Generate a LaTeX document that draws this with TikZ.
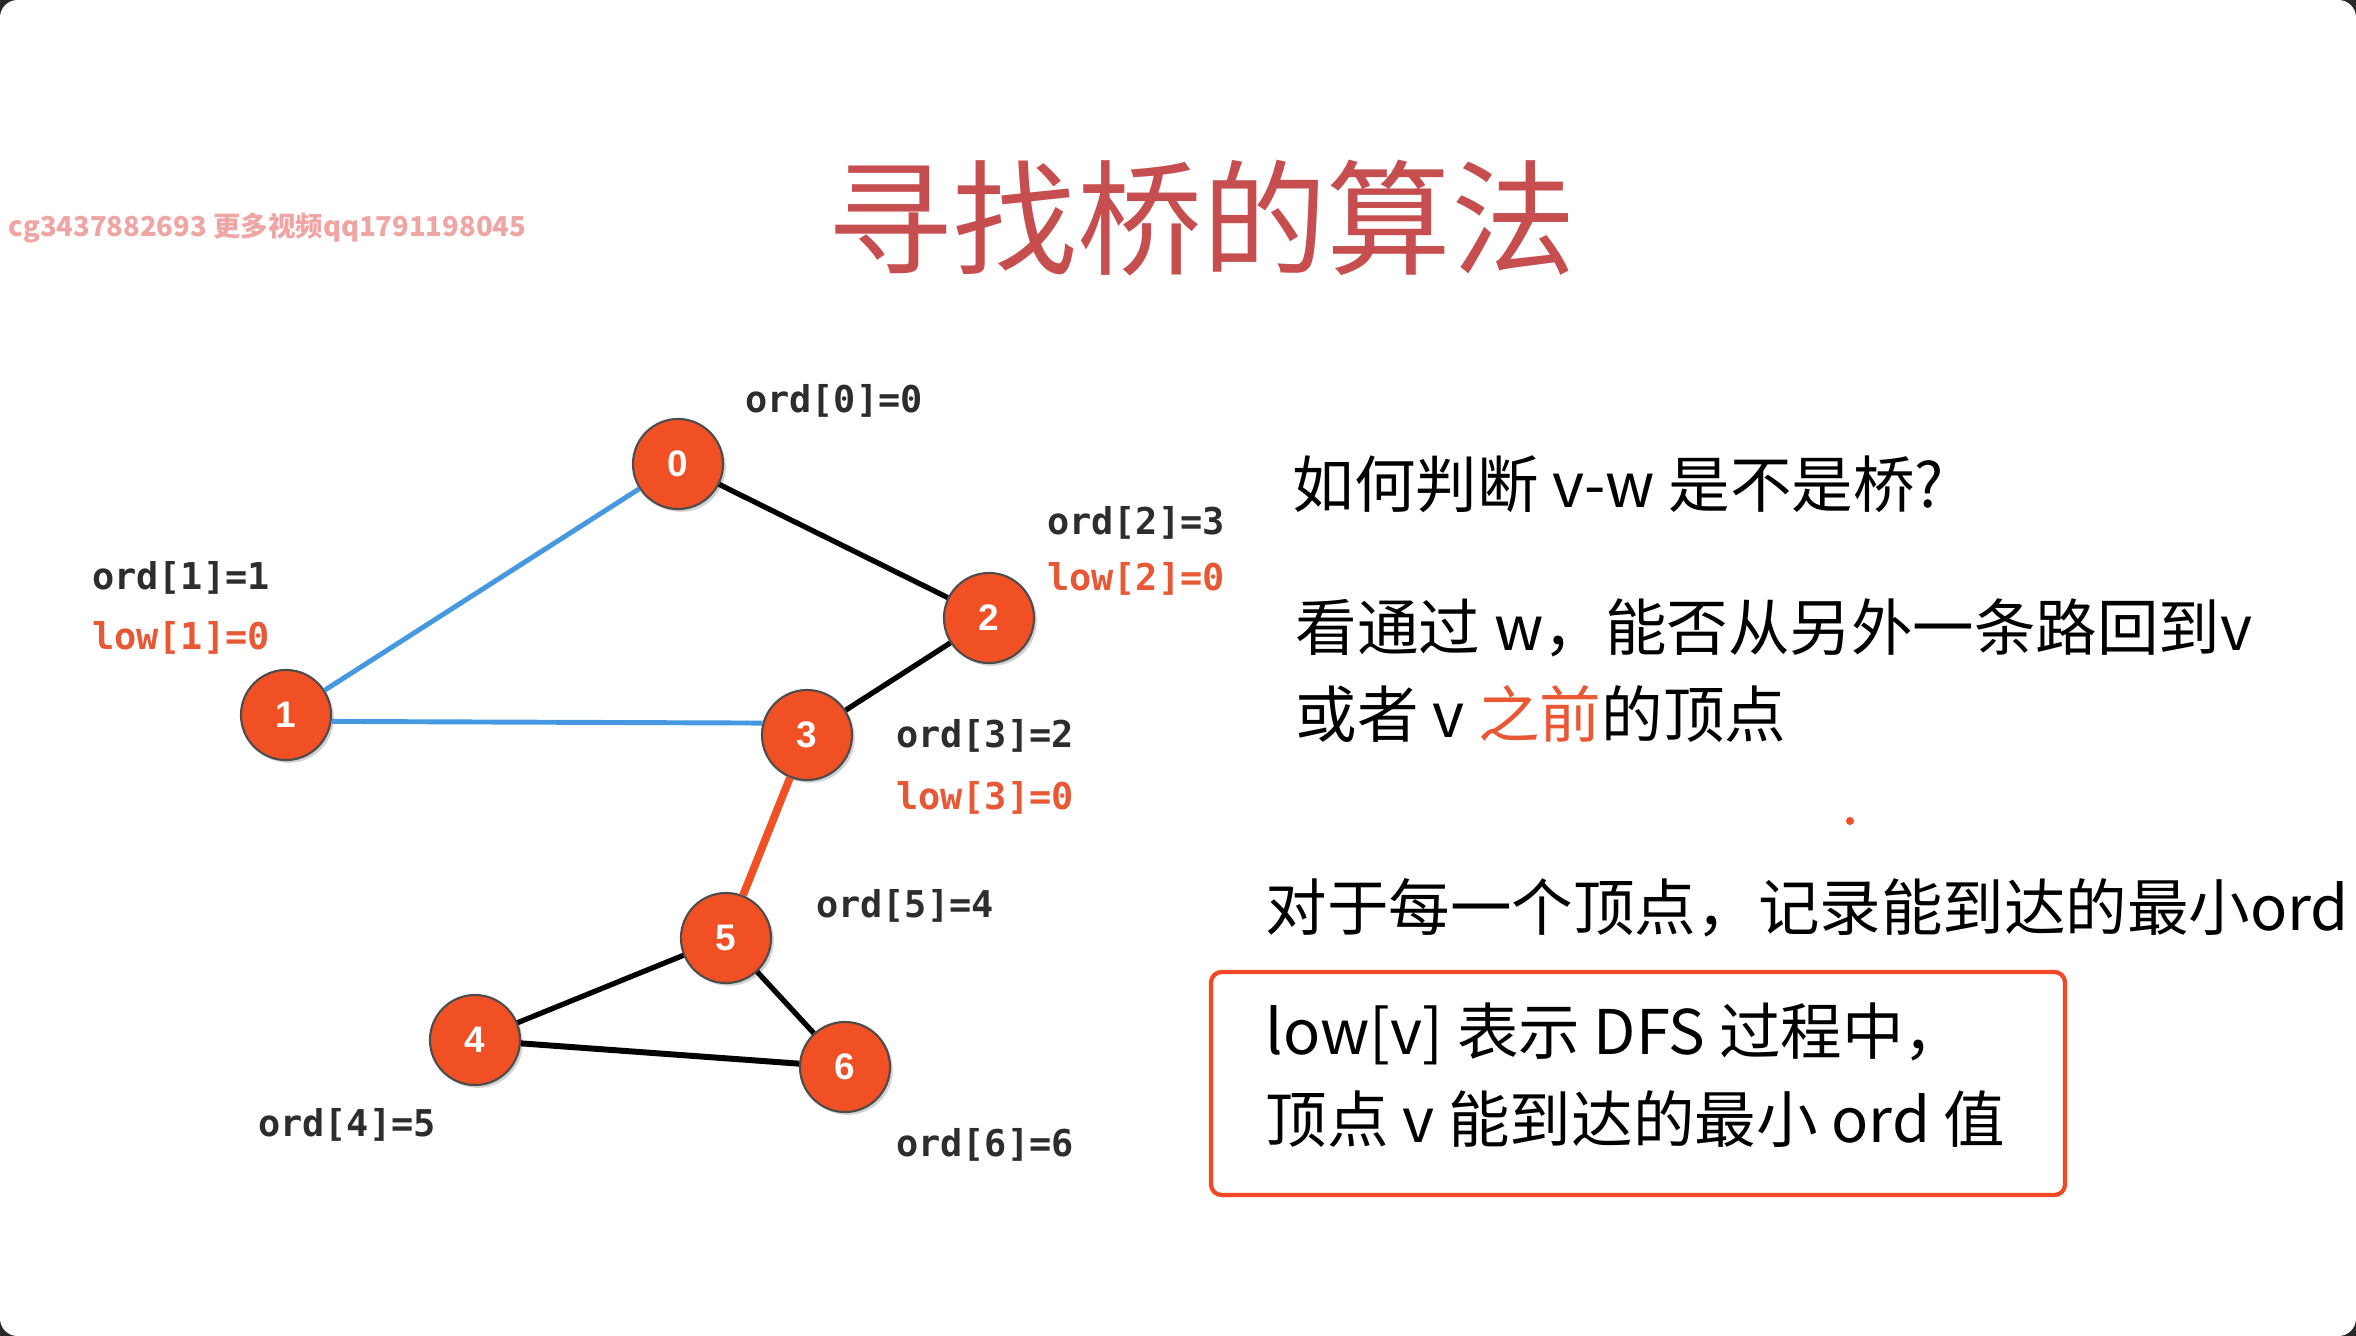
\documentclass[tikz,border=0pt]{standalone}
\usepackage{fontspec}
\usepackage{xcolor}
\usepackage{tikz}
\usetikzlibrary{positioning, shadows}

\newfontfamily\cjk{Noto Sans CJK SC}
\newfontfamily\monofont{DejaVu Sans Mono}
\newfontfamily\numfont{Liberation Sans}

\definecolor{nodered}{RGB}{240,80,35}
\definecolor{edgeblue}{RGB}{70,152,225}
\definecolor{titlered}{RGB}{198,78,78}
\definecolor{lowred}{RGB}{232,88,52}
\definecolor{ordgray}{RGB}{45,45,45}
\definecolor{markpink}{RGB}{240,165,165}
\definecolor{boxred}{RGB}{242,72,40}
\definecolor{corner}{RGB}{40,40,40}

\begin{document}
\begin{tikzpicture}[x=0.01cm, y=-0.01cm, node distance=0.6cm, on grid,
    vertex/.style={circle, fill=nodered, draw=black!70, line width=0.6pt,
        minimum size=0.9cm, inner sep=0pt, text=white,
        font=\numfont\bfseries\fontsize{10.5}{10.5}\selectfont,
        drop shadow={shadow xshift=0.8pt, shadow yshift=-0.8pt, opacity=0.35}},
    ordlabel/.style={inner sep=0pt, text=ordgray,
        font=\monofont\bfseries\fontsize{10.5}{12}\selectfont},
    lowlabel/.style={ordlabel, text=lowred},
    plain/.style={draw=black, line width=1.5pt},
    tree/.style={draw=edgeblue, line width=1.4pt},
    bridge/.style={draw=nodered, line width=2.2pt},
    textline/.style={anchor=west, inner sep=0pt,
        font=\cjk\fontsize{17.5}{20}\selectfont}]

    % page
    \fill[corner] (0,0) rectangle (2356,1336);
    \fill[white, rounded corners=5pt] (0,0) rectangle (2356,1336);
    \useasboundingbox (0,0) rectangle (2356,1336);

    \node[text=markpink, font=\cjk\bfseries\fontsize{7.8}{10}\selectfont, anchor=west, inner sep=0pt]
        (mark) at (8,228) {cg3437882693 更多视频qq1791198045};
    \node[text=titlered, font=\cjk\fontsize{35.5}{40}\selectfont] (title) at (1202,218) {寻找桥的算法};

    % graph
    \node[vertex] (v0) at (678,464)  {0};
    \node[vertex] (v1) at (286,715)  {1};
    \node[vertex] (v2) at (989,618)  {2};
    \node[vertex] (v3) at (807,735)  {3};
    \node[vertex] (v5) at (726,938)  {5};
    \node[vertex] (v4) at (475,1040) {4};
    \node[vertex] (v6) at (845,1067) {6};

    \path[plain]
    (v0) edge (v2)
    (v2) edge (v3)
    (v5) edge (v4)
    (v5) edge (v6)
    (v4) edge [line width=1.7pt] (v6);
    \path[tree]
    (v0) edge (v1)
    (v1.-8) edge (v3.165);
    \path[bridge]
    (v3) edge (v5);

    % ord / low
    \node[ordlabel] (ord0) at (834,401)  {ord[0]=0};
    \node[ordlabel] (ord1) at (181,578)  {ord[1]=1};
    \node[lowlabel] (low1) [below=of ord1] {low[1]=0};
    \node[ordlabel] (ord2) at (1136,523) {ord[2]=3};
    \node[lowlabel] (low2) [below=0.56cm of ord2] {low[2]=0};
    \node[ordlabel] (ord3) at (985,736)  {ord[3]=2};
    \node[lowlabel] (low3) [below=0.62cm of ord3] {low[3]=0};
    \node[ordlabel] (ord5) at (905,906)  {ord[5]=4};
    \node[ordlabel] (ord4) at (347,1125) {ord[4]=5};
    \node[ordlabel] (ord6) at (985,1145) {ord[6]=6};

    % text
    \node[textline] (ask)   at (1292,484) {如何判断 v-w 是不是桥?};
    \node[textline] (see)   at (1295,628) {看通过 w，能否从另外一条路回到v};
    \node[textline] (prev)  at (1295,714) {或者 v {\color{lowred}之前}的顶点};
    \fill[nodered] (1850,821) circle (4);
    \node[textline] (each)  at (1265,908) {对于每一个顶点，记录能到达的最小ord};

    \draw[boxred, line width=1.2pt, rounded corners=3pt] (1211,972) rectangle (2065,1195);
    \node[textline] (lowv)  at (1265,1034) {low[v] 表示 DFS 过程中，};
    \node[textline] (lowv2) at (1265,1119) {顶点 v 能到达的最小 ord 值};

\end{tikzpicture}
\end{document}
